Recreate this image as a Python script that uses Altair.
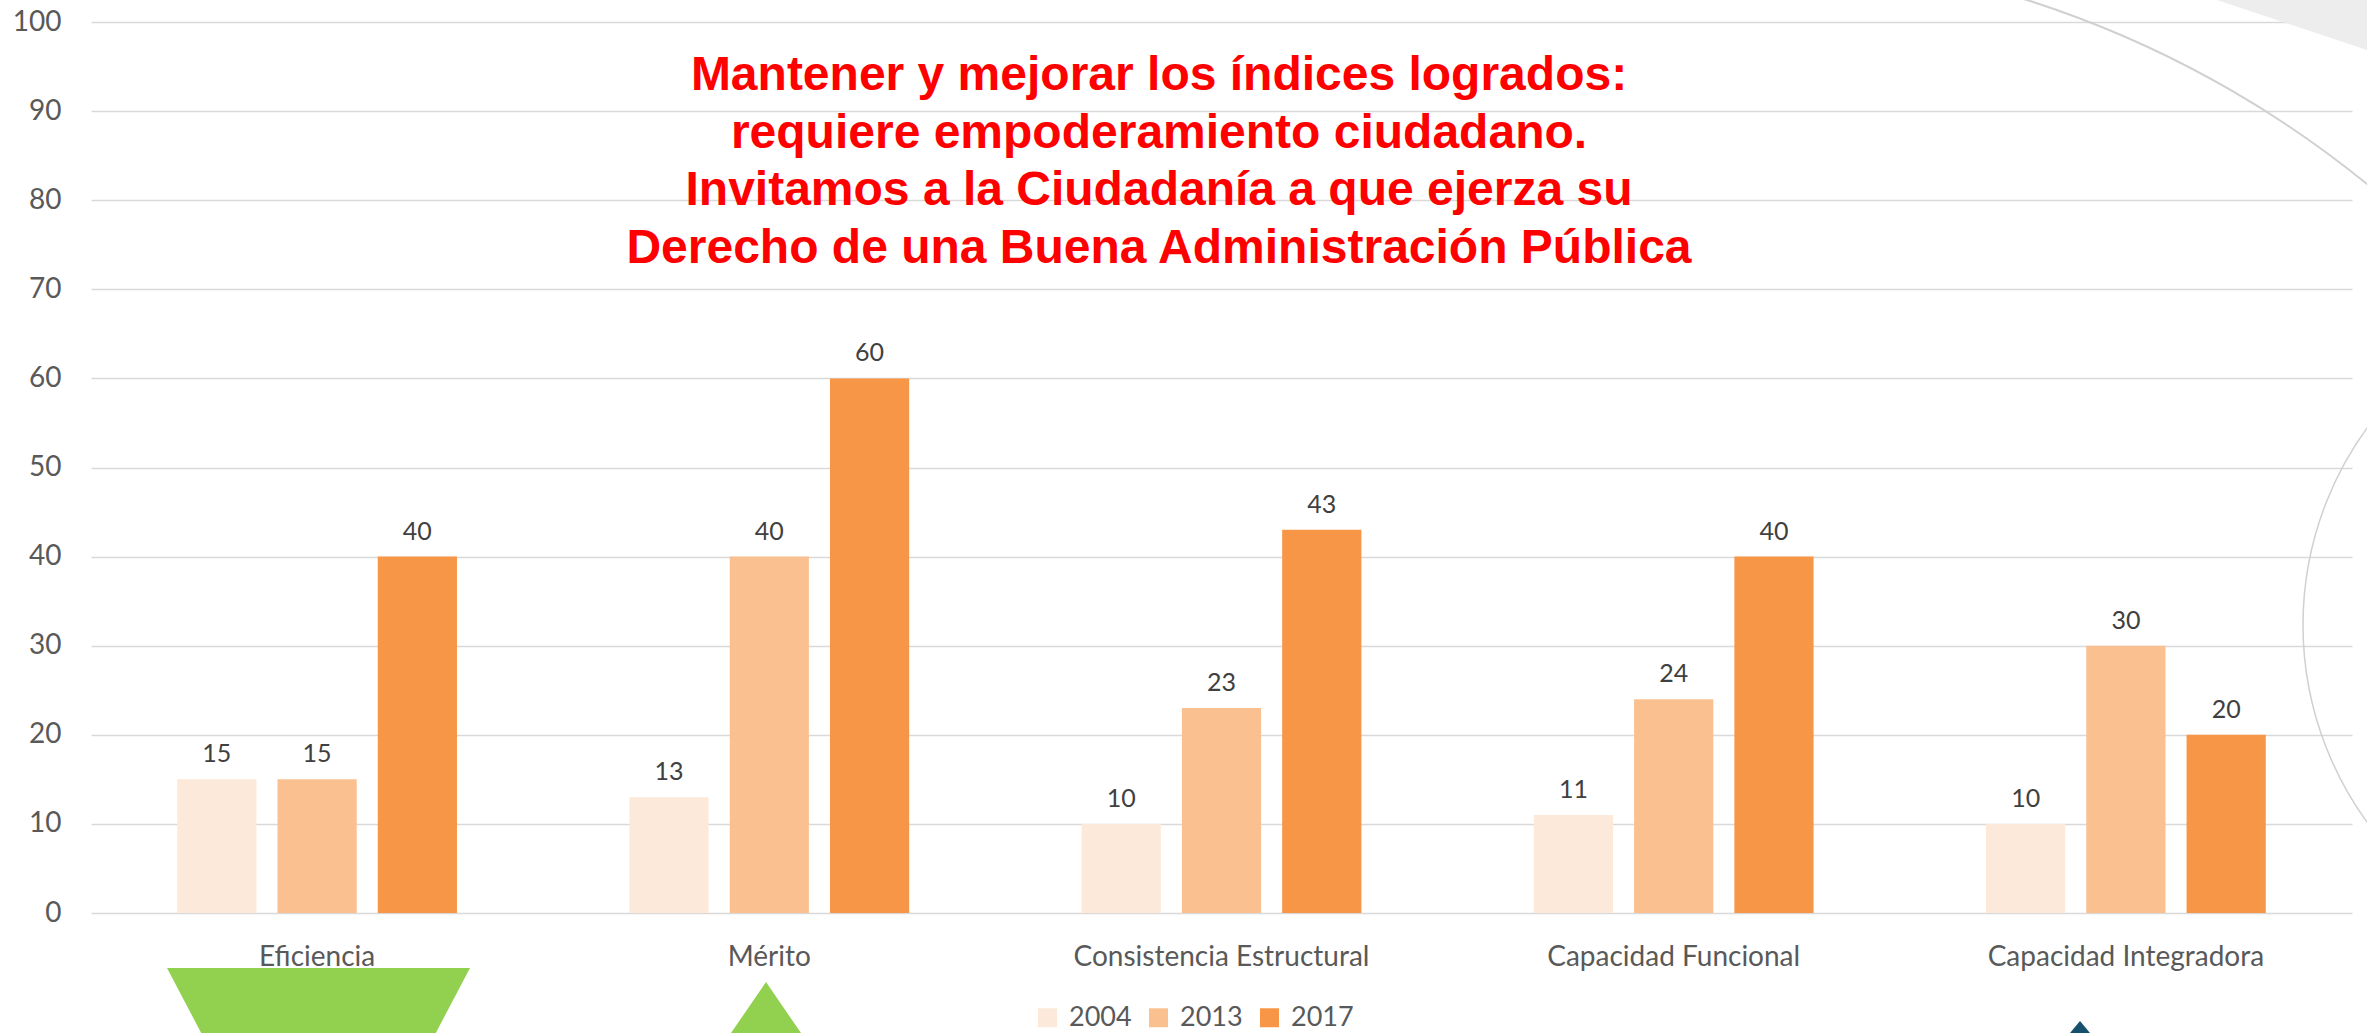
import altair as alt
import pandas as pd

categories = ["Eficiencia", "Mérito", "Consistencia Estructural", "Capacidad Funcional", "Capacidad Integradora"]
years = ["2004", "2013", "2017"]
v2004 = [15, 13, 10, 11, 10]
v2013 = [15, 40, 23, 24, 30]
v2017 = [40, 60, 43, 40, 20]
colors = ["#FDE9D9", "#FAC090", "#F79646"]
title_lines = [
    "Mantener y mejorar los índices logrados:",
    "requiere empoderamiento ciudadano.",
    "Invitamos a la Ciudadanía a que ejerza su",
    "Derecho de una Buena Administración Pública",
]

rows = []
for yr, vals in zip(years, [v2004, v2013, v2017]):
    for c, v in zip(categories, vals):
        rows.append({"cat": c, "year": yr, "value": v})
df = pd.DataFrame(rows)

W, H = 2261, 891
PL, PT = 91, 22

x = alt.X("cat:N", sort=categories, scale=alt.Scale(paddingInner=0, paddingOuter=0),
          axis=alt.Axis(title=None, labelAngle=0, labelFontSize=28, labelColor="#595959",
                        labelFont="Lato", labelPadding=30, domain=False, ticks=False,
                        labelLimit=600, grid=False))
xo = alt.XOffset("year:N", sort=years, scale=alt.Scale(paddingInner=0.21, paddingOuter=0.86))
y = alt.Y("value:Q", scale=alt.Scale(domain=[0, 100], nice=False),
          axis=alt.Axis(title=None, values=list(range(0, 101, 10)), labelFontSize=28,
                        labelColor="#595959", labelFont="Lato", labelPadding=30,
                        domain=False, ticks=False, grid=True, gridColor="#D9D9D9",
                        gridWidth=1.5))

bars = alt.Chart(df).mark_bar().encode(
    x=x, xOffset=xo, y=y,
    color=alt.Color("year:N", sort=years, scale=alt.Scale(domain=years, range=colors),
                    legend=alt.Legend(title=None, orient="none", direction="horizontal",
                                      legendX=943, legendY=982, symbolType="square",
                                      symbolSize=361, symbolStrokeWidth=0,
                                      labelFontSize=27, labelFont="Lato",
                                      labelColor="#595959", labelOffset=8,
                                      columnPadding=13, padding=0)),
)

labels = alt.Chart(df).mark_text(baseline="alphabetic", dy=-17, fontSize=25, font="Lato",
                                 color="#404040").encode(
    x=x, xOffset=xo, y=y, text=alt.Text("value:Q"),
)

one = pd.DataFrame({"t": ["\n".join(title_lines)]})

title = alt.Chart(one).mark_text(lineBreak="\n", font="Liberation Sans", fontWeight="bold",
                                 fontSize=48, lineHeight=57.7, color="#FF0000",
                                 align="center", baseline="alphabetic").encode(
    x=alt.value(1159 - PL), y=alt.value(90 - PT), text="t:N")

# decorative slide elements
down_tri = alt.Chart(one).mark_point(shape="M-1,-1L1,-1L0,0.9Z", filled=True, opacity=1,
                                     color="#92D050", size=303 ** 2, strokeWidth=0).encode(
    x=alt.value(318.5 - PL), y=alt.value(1119.5 - PT))
up_tri = alt.Chart(one).mark_point(shape="M0,-1L1,0.458L-1,0.458Z", filled=True, opacity=1,
                                   color="#92D050", size=120 ** 2, strokeWidth=0).encode(
    x=alt.value(766 - PL), y=alt.value(1042 - PT))
blue_tri = alt.Chart(one).mark_point(shape="M0,-1L1,0.2L-1,0.2Z", filled=True, opacity=1,
                                     color="#17506E", size=50 ** 2, strokeWidth=0).encode(
    x=alt.value(2080 - PL), y=alt.value(1046 - PT))
ring = alt.Chart(one).mark_point(shape="circle", filled=False, color="#D0D0D0",
                                 size=670 ** 2, strokeWidth=1.5, opacity=1).encode(
    x=alt.value(2638 - PL), y=alt.value(625 - PT))
corner = alt.Chart(one).mark_point(shape="M-1,-0.333L1.4,-0.333L1.4,0.467Z", filled=True,
                                   opacity=1, color="#EDEDED", size=150 ** 2,
                                   strokeWidth=0).encode(
    x=alt.value(2292 - PL), y=alt.value(25 - PT))
curve = alt.Chart(one).mark_arc(innerRadius=1036, outerRadius=1038, theta=0.15, theta2=0.9,
                                color="#D0D0D0").encode(
    x=alt.value(1712 - PL), y=alt.value(988 - PT))

chart = alt.layer(corner, curve, ring, bars, labels, title, down_tri, up_tri, blue_tri).properties(
    width=W, height=H,
    autosize=alt.AutoSizeParams(type="none"),
    padding={"left": PL, "top": PT, "right": 2367 - PL - W, "bottom": 1033 - PT - H},
    background="white",
).configure_view(stroke=None)

chart.save("out.html", embed_options={"renderer": "svg", "actions": False})
